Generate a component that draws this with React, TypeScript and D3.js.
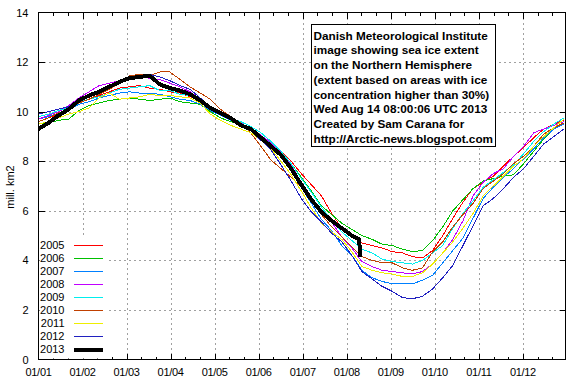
import React, { useEffect, useRef } from 'react';
import * as d3 from 'd3';

// sea ice extent, mill. km2
const years = ['2005', '2006', '2007', '2008', '2009', '2010', '2011', '2012', '2013'];
const colors = ['#ff0000', '#00c000', '#0080ff', '#c000ff', '#00eeee', '#c04000', '#eeee00', '#2020c0', '#000000'];

const weekDays = [
  0, 7, 14, 21, 28, 35, 42, 49, 56, 63, 70, 77, 84, 91, 98, 105, 112, 119, 126, 133,
  140, 147, 154, 161, 168, 175, 182, 189, 196, 203, 210, 217, 224, 231, 238, 245, 252, 259, 266, 273,
  280, 287, 294, 301, 308, 315, 322, 329, 336, 343, 350, 357, 364
];

const ext2005 = [
  9.6, 9.75, 9.9, 10.1, 10.35, 10.5, 10.65, 10.8, 10.95, 11.0,
  11.05, 10.95, 10.9, 10.8, 10.75, 10.6, 10.45, 10.15, 9.95, 9.75,
  9.6, 9.4, 9.15, 8.8, 8.4, 8.0, 7.5, 7.05, 6.6, 5.9,
  5.3, 5.0, 4.7, 4.6, 4.5, 4.35, 4.3, 4.15, 4.1, 4.4,
  5.0, 5.7, 6.35, 6.9, 7.15, 7.4, 7.8, 8.2, 8.55, 8.95,
  9.3, 9.5, 9.65
];
const ext2006 = [
  9.5, 9.55, 9.65, 9.7, 10.05, 10.25, 10.35, 10.45, 10.5, 10.55,
  10.5, 10.45, 10.5, 10.55, 10.4, 10.35, 10.3, 10.0, 9.75, 9.6,
  9.5, 9.25, 9.0, 8.7, 8.35, 7.9, 7.35, 6.8, 6.2, 5.85,
  5.5, 5.25, 5.0, 4.85, 4.65, 4.6, 4.45, 4.35, 4.4, 4.8,
  5.35, 6.0, 6.45, 6.9, 7.2, 7.3, 7.4, 7.45, 7.9, 8.4,
  8.9, 9.3, 9.55
];
const ext2007 = [
  9.7, 9.8, 9.95, 10.05, 10.3, 10.4, 10.55, 10.65, 10.75, 10.8,
  10.75, 10.75, 10.7, 10.6, 10.5, 10.45, 10.3, 10.05, 9.85, 9.65,
  9.5, 9.3, 9.05, 8.7, 8.2, 7.65, 6.95, 6.3, 5.65, 5.2,
  4.6, 4.2, 3.6, 3.3, 3.15, 3.05, 3.05, 3.05, 3.2, 3.4,
  3.9, 4.4, 4.9, 5.7, 6.5, 6.95, 7.35, 7.7, 8.1, 8.5,
  8.95, 9.3, 9.5
];
const ext2008 = [
  9.7, 9.85, 10.0, 10.25, 10.55, 10.8, 11.05, 11.15, 11.25, 11.4,
  11.4, 11.35, 11.3, 11.15, 11.0, 10.8, 10.5, 10.15, 9.9, 9.7,
  9.55, 9.3, 9.05, 8.75, 8.35, 7.85, 7.15, 6.55, 6.0, 5.55,
  4.95, 4.5, 3.95, 3.75, 3.6, 3.55, 3.5, 3.45, 3.55, 3.85,
  4.3, 4.85, 5.6, 6.6, 7.15, 7.5, 7.7, 8.2, 8.6, 9.15,
  9.3, 9.45, 9.6
];
const ext2009 = [
  9.8, 9.9, 10.05, 10.15, 10.4, 10.5, 10.6, 10.75, 10.9, 10.95,
  11.0, 11.05, 10.85, 10.85, 10.7, 10.65, 10.45, 10.2, 10.0, 9.75,
  9.6, 9.4, 9.15, 8.8, 8.4, 7.9, 7.3, 6.75, 6.15, 5.6,
  5.15, 4.8, 4.45, 4.3, 4.05, 3.95, 3.9, 3.85, 4.0, 4.3,
  4.6, 5.3, 5.9, 6.4, 6.95, 7.25, 7.55, 7.85, 8.3, 8.8,
  9.2, 9.5, 9.75
];
const ext2010 = [
  9.6, 9.75, 9.95, 10.1, 10.35, 10.5, 10.7, 10.9, 11.15, 11.45,
  11.5, 11.45, 11.6, 11.6, 11.3, 11.0, 10.75, 10.5, 10.1, 9.8,
  9.55, 9.15, 8.6, 8.05, 7.7, 7.35, 6.95, 6.45, 5.85, 5.35,
  4.95, 4.55, 4.15, 4.0, 3.9, 3.9, 3.7, 3.6, 3.7, 4.35,
  4.75, 5.35, 5.85, 6.3, 6.9, 7.2, 7.5, 7.9, 8.2, 8.6,
  9.1, 9.35, 9.55
];
const ext2011 = [
  9.5, 9.6, 9.75, 9.9, 10.0, 10.15, 10.55, 10.75, 10.5, 10.55,
  10.6, 10.7, 10.65, 10.65, 10.6, 10.55, 10.35, 9.9, 9.65, 9.45,
  9.3, 9.15, 8.85, 8.5, 8.0, 7.45, 6.8, 6.1, 5.5, 5.15,
  4.85, 4.35, 3.75, 3.6, 3.5, 3.45, 3.35, 3.35, 3.5, 3.85,
  4.3, 4.75, 5.3, 5.9, 6.6, 7.0, 7.4, 7.8, 8.1, 8.6,
  9.0, 9.35, 9.7
];
const ext2012 = [
  9.9, 10.0, 10.1, 10.2, 10.45, 10.6, 10.75, 10.95, 11.2, 11.3,
  11.45, 11.5, 11.4, 11.25, 11.05, 10.9, 10.55, 10.2, 9.95, 9.7,
  9.5, 9.25, 8.85, 8.45, 7.85, 7.2, 6.5, 5.95, 5.55, 5.1,
  4.75, 4.2, 3.55, 3.25, 2.95, 2.75, 2.5, 2.45, 2.55, 2.85,
  3.3, 3.8, 4.6, 5.4, 6.2, 6.5, 6.9, 7.35, 7.7, 8.2,
  8.7, 9.0, 9.3
];

const days2013 = [
  0, 7, 14, 21, 28, 35, 42, 49, 56, 63, 70, 77, 84, 91, 98, 105, 112, 119, 126, 133,
  140, 147, 154, 161, 168, 175, 182, 189, 196, 203, 210, 217, 222, 223
];
const ext2013 = [
  9.3, 9.55, 9.85, 10.1, 10.45, 10.65, 10.8, 11.0, 11.2, 11.35,
  11.4, 11.45, 11.1, 10.95, 10.85, 10.7, 10.45, 10.15, 9.95, 9.75,
  9.45, 9.3, 8.95, 8.6, 8.25, 7.7, 7.05, 6.45, 5.95, 5.6,
  5.3, 5.0, 4.85, 4.15
];

const monthLabels = ['01/01', '01/02', '01/03', '01/04', '01/05', '01/06', '01/07', '01/08', '01/09', '01/10', '01/11', '01/12'];
const yTicks = [0, 2, 4, 6, 8, 10, 12, 14];

const infoLines = [
  'Danish Meteorological Institute',
  'image showing sea ice extent',
  'on the Northern Hemisphere',
  '(extent based on areas with ice',
  'concentration higher than 30%)',
  'Wed Aug 14 08:00:06 UTC 2013',
  'Created by Sam Carana for',
  'http://Arctic-news.blogspot.com'
];

const FONT = '"Liberation Sans", Arial, sans-serif';

const drawChart = (node: SVGSVGElement) => {
  const width = 575;
  const height = 385;
  const left = 38.5, right = 565.5, top = 12.5, bottom = 359.5;
  const monthStep = 30.5;

  const svg = d3.select(node).attr('width', width).attr('height', height);
  svg.selectAll('*').remove();

  svg.append('rect').attr('width', width).attr('height', height).attr('fill', '#fff');

  const x = d3.scaleLinear().domain([0, 365]).range([left, right]);
  const y = d3.scaleLinear().domain([0, 14]).range([bottom, top]);

  const monthTicks = monthLabels.map((_, i) => i * monthStep);
  const minorTicks = d3.range(0, 37).map(i => i * monthStep / 3).filter(d => d <= 365 && (d / monthStep) % 1 !== 0);

  // grid
  const grid = svg.append('g')
    .attr('stroke', '#a0a0a0')
    .attr('stroke-dasharray', '2,3')
    .attr('shape-rendering', 'crispEdges');
  grid.selectAll('.hgrid')
    .data(yTicks.filter(t => t > 0 && t < 14))
    .enter()
    .append('line')
    .attr('x1', left).attr('x2', right)
    .attr('y1', d => Math.round(y(d)) + 0.5).attr('y2', d => Math.round(y(d)) + 0.5);
  grid.selectAll('.vgrid')
    .data(monthTicks.slice(1))
    .enter()
    .append('line')
    .attr('x1', d => Math.round(x(d)) + 0.5).attr('x2', d => Math.round(x(d)) + 0.5)
    .attr('y1', top).attr('y2', bottom);

  // series
  const series = [ext2005, ext2006, ext2007, ext2008, ext2009, ext2010, ext2011, ext2012];
  const line = d3.line<[number, number]>()
    .x(d => x(d[0]))
    .y(d => y(d[1]));

  series.forEach((vals, i) => {
    svg.append('path')
      .datum(weekDays.map((d, j) => [d, vals[j]] as [number, number]))
      .attr('d', line)
      .attr('fill', 'none')
      .attr('stroke', colors[i])
      .attr('stroke-width', 1)
      .attr('shape-rendering', 'crispEdges');
  });

  svg.append('path')
    .datum(days2013.map((d, j) => [d, ext2013[j]] as [number, number]))
    .attr('d', line)
    .attr('fill', 'none')
    .attr('stroke', colors[8])
    .attr('stroke-width', 4)
    .attr('shape-rendering', 'crispEdges');

  // border + ticks
  svg.append('rect')
    .attr('x', left).attr('y', top)
    .attr('width', right - left).attr('height', bottom - top)
    .attr('fill', 'none').attr('stroke', '#000')
    .attr('shape-rendering', 'crispEdges');

  const ticks = svg.append('g').attr('stroke', '#000').attr('shape-rendering', 'crispEdges');
  yTicks.filter(t => t > 0 && t < 14).forEach(t => {
    const yy = Math.round(y(t)) + 0.5;
    ticks.append('line').attr('x1', left).attr('x2', left + 6).attr('y1', yy).attr('y2', yy);
    ticks.append('line').attr('x1', right - 6).attr('x2', right).attr('y1', yy).attr('y2', yy);
  });
  monthTicks.slice(1).forEach(t => {
    const xx = Math.round(x(t)) + 0.5;
    ticks.append('line').attr('x1', xx).attr('x2', xx).attr('y1', bottom).attr('y2', bottom - 6);
    ticks.append('line').attr('x1', xx).attr('x2', xx).attr('y1', top).attr('y2', top + 6);
  });
  minorTicks.forEach(t => {
    const xx = Math.round(x(t)) + 0.5;
    ticks.append('line').attr('x1', xx).attr('x2', xx).attr('y1', bottom).attr('y2', bottom - 3);
    ticks.append('line').attr('x1', xx).attr('x2', xx).attr('y1', top).attr('y2', top + 3);
  });

  // tick labels
  svg.selectAll('.ylab')
    .data(yTicks)
    .enter()
    .append('text')
    .attr('x', 28.5)
    .attr('y', d => y(d) + 4)
    .attr('text-anchor', 'end')
    .attr('font-family', FONT)
    .attr('font-size', 11)
    .text(d => d);

  svg.selectAll('.xlab')
    .data(monthTicks)
    .enter()
    .append('text')
    .attr('x', d => x(d))
    .attr('y', 375.5)
    .attr('text-anchor', 'middle')
    .attr('font-family', FONT)
    .attr('font-size', 11)
    .attr('letter-spacing', -0.3)
    .text((d, i) => monthLabels[i]);

  svg.append('text')
    .attr('transform', 'translate(14,187) rotate(-90)')
    .attr('text-anchor', 'middle')
    .attr('font-family', FONT)
    .attr('font-size', 11)
    .text('mill. km2');

  // legend
  svg.append('rect')
    .attr('x', left + 1).attr('y', 238)
    .attr('width', 69).attr('height', bottom - 239)
    .attr('fill', '#fff');
  const legend = svg.append('g');
  years.forEach((yr, i) => {
    const cy = 245 + i * 13;
    legend.append('text')
      .attr('x', 64.5).attr('y', cy + 4)
      .attr('text-anchor', 'end')
      .attr('font-family', FONT)
      .attr('font-size', 11)
      .text(yr);
    legend.append('line')
      .attr('x1', 74).attr('x2', 103)
      .attr('y1', cy + 0.5).attr('y2', cy + 0.5)
      .attr('stroke', colors[i])
      .attr('stroke-width', i === 8 ? 4 : 1)
      .attr('shape-rendering', 'crispEdges');
  });

  // info box
  svg.append('rect')
    .attr('x', 311.5).attr('y', 24.5)
    .attr('width', 184).attr('height', 122)
    .attr('fill', '#fff').attr('stroke', '#000')
    .attr('shape-rendering', 'crispEdges');
  svg.selectAll('.info')
    .data(infoLines)
    .enter()
    .append('text')
    .attr('x', 313.5)
    .attr('y', (d, i) => 39.5 + i * 14.75)
    .attr('font-family', FONT)
    .attr('font-size', 11.75)
    .attr('font-weight', 'bold')
    .text(d => d);
};

const App = () => {
  const ref = useRef<SVGSVGElement>(null);

  useEffect(() => {
    if (ref.current) drawChart(ref.current);
  }, []);

  return (
    <div style={{ position: 'absolute', left: 0, top: 0 }}>
      <svg ref={ref} style={{ display: 'block' }} />
    </div>
  );
};

export default App;
